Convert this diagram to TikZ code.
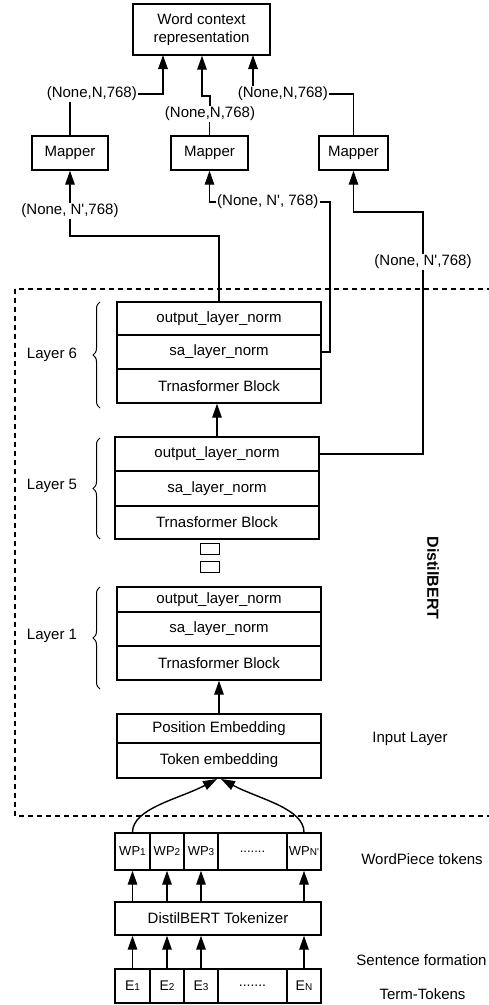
\documentclass[tikz,border=0pt]{standalone}
\usepackage{fontspec}
\setmainfont{Liberation Sans}
\usetikzlibrary{arrows.meta,decorations.pathreplacing}
\begin{document}
\begin{tikzpicture}[x=1pt,y=-1pt,
  bx/.style={draw, line width=1.4pt, inner sep=0pt, align=center, font=\fontsize{15}{18}\selectfont},
  row/.style={bx, minimum width=204pt},
  cell/.style={bx, font=\fontsize{14}{16}\selectfont},
  lbl/.style={inner sep=1pt, font=\fontsize{15}{18}\selectfont},
  side/.style={inner sep=0pt, font=\fontsize{15}{18}\selectfont},
  conn/.style={line width=1.4pt},
  arr/.style={conn, -{Triangle[length=14pt,width=9.5pt]}},
  brc/.style={decorate, decoration={brace,amplitude=7pt}, line width=1pt},
  dots/.style={draw, line width=1pt, minimum width=19pt, minimum height=11pt, inner sep=0pt}]
\useasboundingbox (0,0) rectangle (489,1005);

% dashed DistilBERT frame
\draw[line width=1.4pt, dash pattern=on 5pt off 4pt] (15,289) rectangle (505,816);

% top output
\node[bx, minimum width=137pt, minimum height=51pt] (wc) at (201.5,29.5) {Word context\\representation};
\coordinate (wc1) at (163,55);
\coordinate (wc3) at (253,55);

% mappers
\node[bx, minimum width=76pt, minimum height=34pt] (m1) at (70,153) {Mapper};
\node[bx, minimum width=77pt, minimum height=34pt] (m2) at (209.5,153) {Mapper};
\node[bx, minimum width=69pt, minimum height=34pt] (m3) at (353.5,153) {Mapper};

% shape labels
\node[lbl, anchor=east] (l1) at (138,94) {(None,N,768)};
\node[lbl] (l2) at (210,114) {(None,N,768)};
\node[lbl, anchor=east] (l3) at (329,94) {(None,N,768)};
\node[lbl] (l4) at (70,211) {(None, N\textquotesingle,768)};
\node[lbl, anchor=west] (l5) at (216,202) {(None, N\textquotesingle, 768)};
\node[lbl] (l6) at (423,262) {(None, N\textquotesingle,768)};

% Layer 6
\node[row, minimum height=33pt] (l6o) at (219,318.5) {output\_layer\_norm};
\node[row, minimum height=34pt] (l6s) at (219,352) {sa\_layer\_norm};
\node[row, minimum height=34pt] (l6t) at (219,386) {Trnasformer Block};
% Layer 5
\node[row, minimum height=34pt] (l5o) at (217,454) {output\_layer\_norm};
\node[row, minimum height=35pt] (l5s) at (217,488.5) {sa\_layer\_norm};
\node[row, minimum height=33pt] (l5t) at (217,522.5) {Trnasformer Block};
% dots
\node[dots] (d1) at (209.5,549) {};
\node[dots] (d2) at (209.5,566.5) {};
% Layer 1
\node[row, minimum height=25pt] (l1o) at (219,599.5) {output\_layer\_norm};
\node[row, minimum height=34pt] (l1s) at (219,629) {sa\_layer\_norm};
\node[row, minimum height=34pt] (l1t) at (219,663) {Trnasformer Block};
% Input layer
\node[row, minimum height=29pt] (ipos) at (219,728.5) {Position Embedding};
\node[row, minimum height=35pt] (itok) at (219,760.5) {Token embedding};

% braces and layer names
\draw[brc] (100,408) -- (100,302);
\draw[brc] (100,539) -- (100,438);
\draw[brc] (100,689) -- (100,587);
\node[side] (n6) at (52,355) {Layer 6};
\node[side] (n5) at (52,486) {Layer 5};
\node[side] (n1) at (52,636) {Layer 1};
\node[side] (nin) at (410,739) {Input Layer};
\node[side, rotate=-90, font=\bfseries\fontsize{16}{18}\selectfont] (nd) at (433,578) {DistilBERT};

% WordPiece tokens
\node[cell, minimum width=35pt, minimum height=37pt, font=\fontsize{13}{16}\selectfont] (wp1) at (132.5,851.5) {WP{\fontsize{10}{12}\selectfont 1}};
\node[cell, minimum width=34pt, minimum height=37pt, font=\fontsize{13}{16}\selectfont] (wp2) at (167,851.5) {WP{\fontsize{10}{12}\selectfont 2}};
\node[cell, minimum width=34pt, minimum height=37pt, font=\fontsize{13}{16}\selectfont] (wp3) at (201,851.5) {WP{\fontsize{10}{12}\selectfont 3}};
\node[cell, minimum width=69pt, minimum height=37pt, font=\fontsize{13}{16}\selectfont] (wpd) at (252.5,851.5) {.......};
\node[cell, minimum width=34pt, minimum height=37pt, font=\fontsize{13}{16}\selectfont] (wpn) at (304,851.5) {WP{\fontsize{10}{12}\selectfont N\textquotesingle}};
\node[side] (nwp) at (422,859) {WordPiece tokens};

% tokenizer
\node[bx, minimum width=206pt, minimum height=33pt] (tok) at (218,918.5) {DistilBERT Tokenizer};
\node[side] (nsf) at (421.5,960) {Sentence formation};

% term tokens
\node[cell, minimum width=35pt, minimum height=34pt] (e1) at (132.5,986) {E{\fontsize{10}{12}\selectfont 1}};
\node[cell, minimum width=34pt, minimum height=34pt] (e2) at (167,986) {E{\fontsize{10}{12}\selectfont 2}};
\node[cell, minimum width=34pt, minimum height=34pt] (e3) at (201,986) {E{\fontsize{10}{12}\selectfont 3}};
\node[cell, minimum width=69pt, minimum height=34pt] (ed) at (252.5,986) {.......};
\node[cell, minimum width=34pt, minimum height=34pt] (en) at (304,986) {E{\fontsize{10}{12}\selectfont N}};
\node[side] (ntt) at (422.5,994) {Term-Tokens};

% connectors: mappers to word context
\coordinate (k2) at (202,96);
\draw[conn] (m1.north) -- (m1.north |- l1.south);
\draw[arr] (l1.east) -| (wc1);
\draw[conn] (m2.north) -- (m2.north |- l2.south);
\draw[arr] (l2.north) |- (k2) -- (k2 |- wc.south);
\draw[arr] (l3.north -| wc3) -- (wc3);
\draw[conn] (l3.east) -| (m3.north);

% connectors: layers to mappers
\coordinate (k4) at (219,236);
\draw[arr] (l4.north) -- (m1.south);
\draw[conn] (l4.south) |- (k4) -- (l6o.north);
\coordinate (k5) at (330,202);
\draw[arr] (l5.west) -| (m2.south);
\draw[conn] (l6s.east) -| (k5) -- (l5.east);
\coordinate (k6) at (423,212);
\draw[arr] (l6.north) -- (k6) -| (m3.south);
\draw[conn] (l5o.east) -| (l6.south);

% internal arrows
\draw[arr] (l5o.north) -- (l5o.north |- l6t.south);
\draw[arr] (ipos.north) -- (l1t.south);

% curved arrows into input layer
\coordinate (tl) at (217,779);
\coordinate (tr) at (221,779);
\draw[arr] (wp1.north) .. controls +(0,-24) and +(-38,20) .. (tl);
\draw[arr] (wpn.north) .. controls +(0,-24) and +(38,20) .. (tr);

% tokenizer arrows
\draw[arr] (wp1.south |- tok.north) -- (wp1.south);
\draw[arr] (wp2.south |- tok.north) -- (wp2.south);
\draw[arr] (wp3.south |- tok.north) -- (wp3.south);
\draw[arr] (wpn.south |- tok.north) -- (wpn.south);
\draw[arr] (e1.north) -- (e1.north |- tok.south);
\draw[arr] (e2.north) -- (e2.north |- tok.south);
\draw[arr] (e3.north) -- (e3.north |- tok.south);
\draw[arr] (en.north) -- (en.north |- tok.south);
\end{tikzpicture}
\end{document}
